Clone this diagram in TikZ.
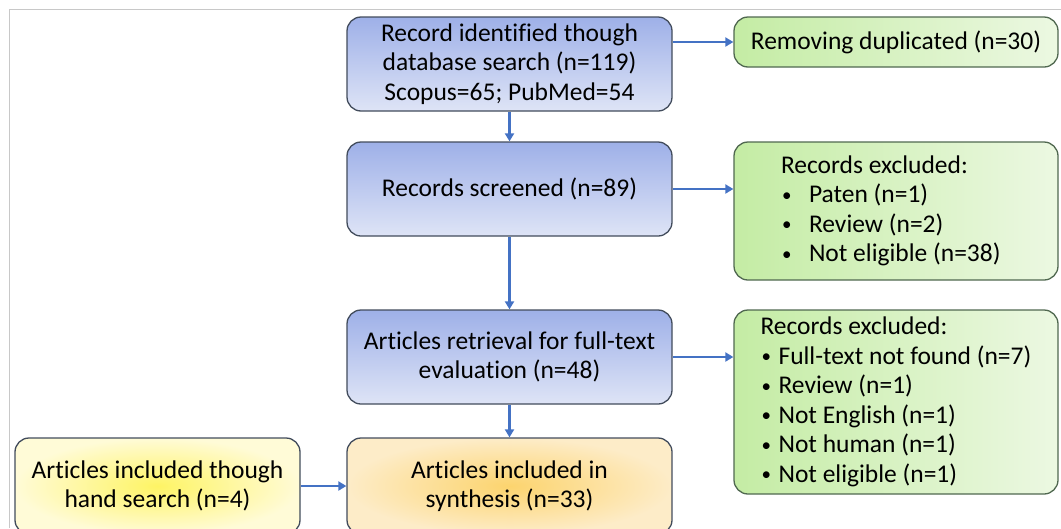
\documentclass[tikz,border=0pt]{standalone}
\usepackage{fontspec}
\setmainfont{Carlito}[Ligatures=NoCommon]
\usetikzlibrary{arrows.meta}
\definecolor{bluetop}{RGB}{158,176,232}
\definecolor{bluebot}{RGB}{222,228,246}
\definecolor{greenl}{RGB}{196,236,164}
\definecolor{greenr}{RGB}{236,248,226}
\definecolor{orangec}{RGB}{252,212,110}
\definecolor{orangeo}{RGB}{253,236,200}
\definecolor{yellowc}{RGB}{254,244,100}
\definecolor{yellowo}{RGB}{255,251,215}
\definecolor{edgegray}{RGB}{66,76,92}
\definecolor{edgegreen}{RGB}{80,104,80}
\definecolor{arrowblue}{RGB}{68,114,196}
\definecolor{framegray}{RGB}{200,200,200}
\newcommand{\bul}[2]{\makebox[#1][l]{\hspace{#2}\raisebox{1.5pt}{\fontsize{19}{19}\selectfont\textbullet}}}
\begin{document}
\begin{tikzpicture}[x=1pt,y=-1pt,
  every node/.style={font=\fontsize{25.5}{29.5}\selectfont, text=black},
  boxbase/.style={rectangle, rounded corners=14pt, line width=1.3pt, inner sep=0pt},
  bluebox/.style={boxbase, align=center, draw=edgegray, top color=bluetop, bottom color=bluebot, minimum width=325pt, minimum height=94pt},
  greenbox/.style={boxbase, draw=edgegreen, left color=greenl, right color=greenr, minimum width=324pt},
  listbox/.style={greenbox, align=left},
  orangebox/.style={boxbase, align=center, draw=edgegray, inner color=orangec, outer color=orangeo, minimum width=325pt, minimum height=96pt},
  yellowbox/.style={boxbase, align=center, draw=edgegray, inner color=yellowc, outer color=yellowo, minimum width=285pt, minimum height=96pt},
  arr/.style={draw=arrowblue, line width=2.2pt, -{Triangle[length=8pt,width=9pt]}, fill=arrowblue}
]
\useasboundingbox (0,0) rectangle (1061,528);
\clip (0,0) rectangle (1061,528);
\draw[framegray, line width=1pt] (9,528) -- (9,9) -- (1061,9);

\node[bluebox] (b1) at (509.5,64) {Record identified though\\database search (n=119)\\Scopus=65; PubMed=54};
\node[bluebox] (b2) at (509.5,189) {Records screened (n=89)};
\node[bluebox] (b3) at (509.5,357) {Articles retrieval for full-text\\evaluation (n=48)};
\node[orangebox] (b4) at (509.5,486) {Articles included in\\synthesis (n=33)};
\node[yellowbox] (b5) at (157.5,486) {Articles included though\\hand search (n=4)};

\node[greenbox, align=center, minimum height=50pt] (r1) at (896,42) {Removing duplicated (n=30)};
\node[listbox, minimum height=138pt] (r2) at (896,211)
  {\makebox[230pt][l]{Records excluded:}\\\bul{28pt}{1pt}Paten (n=1)\\\bul{28pt}{1pt}Review (n=2)\\\bul{28pt}{1pt}Not eligible (n=38)};
\node[listbox, minimum height=184pt] (r3) at (896,402)
  {\makebox[266pt][l]{Records excluded:}\\\bul{18pt}{1pt}Full-text not found (n=7)\\\bul{18pt}{1pt}Review (n=1)\\\bul{18pt}{1pt}Not English (n=1)\\\bul{18pt}{1pt}Not human (n=1)\\\bul{18pt}{1pt}Not eligible (n=1)};

\draw[arr] (b1.east |- r1.west) -- (r1.west);
\draw[arr] (b1.south) -- (b2.north);
\draw[arr] (b2.east) -- (b2.east -| r2.west);
\draw[arr] (b2.south) -- (b3.north);
\draw[arr] (b3.east) -- (b3.east -| r3.west);
\draw[arr] (b3.south) -- (b4.north);
\draw[arr] (b5.east) -- (b4.west);
\end{tikzpicture}
\end{document}
